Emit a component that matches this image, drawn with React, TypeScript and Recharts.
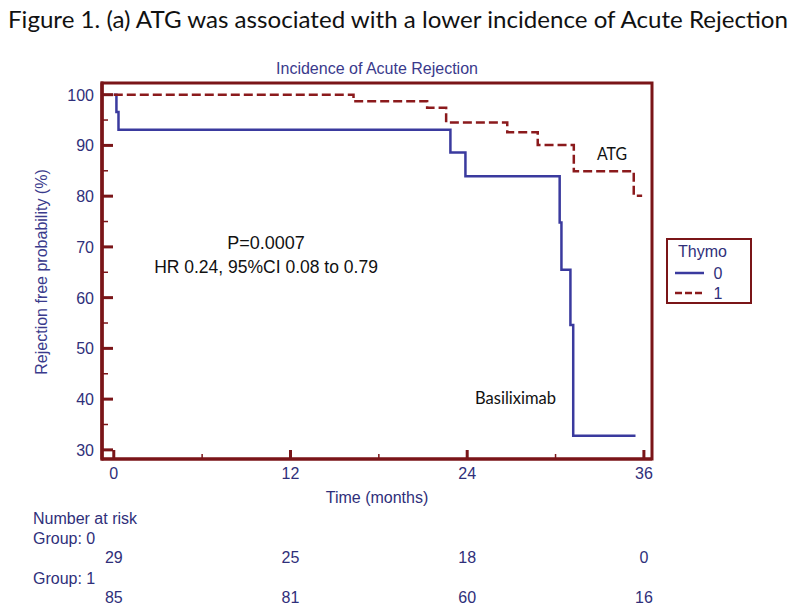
import React from 'react';
import { LineChart, Line, XAxis, YAxis, ReferenceArea, Legend } from 'recharts';

// ---- data ----
const group0Time = [0, 0.18, 0.32, 22.86, 23.88, 30.28, 30.4, 31.01, 31.2, 35.43];
const group0Surv = [100, 96.6, 93.1, 88.6, 83.9, 74.8, 65.5, 54.6, 32.8, 32.8];
const group1Time = [0, 16.28, 21.28, 22.57, 26.72, 28.79, 31.24, 35.31, 35.88];
const group1Surv = [100, 98.7, 97.4, 94.5, 92.6, 90.1, 84.9, 80.1, 80.1];

const majorTimeTicks = [0, 12, 24, 36];
const minorTimeTicks = [6, 18, 30];
const majorProbTicks = [30, 40, 50, 60, 70, 80, 90, 100];
const minorProbTicks = [35, 45, 55, 65, 75, 85, 95];

const riskTimes = [0, 12, 24, 36];
const riskGroup0 = [29, 25, 18, 0];
const riskGroup1 = [85, 81, 60, 16];

const seriesNames = ['0', '1'];
const legendTitle = 'Thymo';

// ---- styles ----
const FRAME = '#7a1518';
const NAVY = '#2f2f7a';
const BLUE = '#3a3a9e';
const RED = '#8b1a1c';
const AXIS_FONT = '"Liberation Sans", Arial, sans-serif';
const NOTE_FONT = 'Lato, "Open Sans", sans-serif';

const PLOT = { left: 102, top: 83, right: 652, bottom: 459 };

const xDomain: [number, number] = [-0.8, 36.55];
const yDomain: [number, number] = [28.2, 102.3];

const group0Data = group0Time.map((t, i) => ({ t, s: group0Surv[i] }));
const group1Data = group1Time.map((t, i) => ({ t, s: group1Surv[i] }));

const allTimeTicks = [...majorTimeTicks, ...minorTimeTicks].sort((a, b) => a - b);
const allProbTicks = [...majorProbTicks, ...minorProbTicks].sort((a, b) => a - b);

const XTick = (props: any) => {
  const { x, y, payload } = props;
  const v = payload.value;
  const major = majorTimeTicks.includes(v);
  const ri = riskTimes.indexOf(v);
  return (
    <g>
      <line x1={x} x2={x} y1={y} y2={y - (major ? 9 : 5)} stroke={FRAME} strokeWidth={major ? 3 : 1.5} />
      {major && (
        <text x={x} y={y + 20} textAnchor="middle" fill={NAVY} fontSize={16} fontFamily={AXIS_FONT}>
          {v}
        </text>
      )}
      {ri >= 0 && (
        <text x={x} y={y + 104} textAnchor="middle" fill={NAVY} fontSize={16} fontFamily={AXIS_FONT}>
          {riskGroup0[ri]}
        </text>
      )}
      {ri >= 0 && (
        <text x={x} y={y + 144} textAnchor="middle" fill={NAVY} fontSize={16} fontFamily={AXIS_FONT}>
          {riskGroup1[ri]}
        </text>
      )}
    </g>
  );
};

const YTick = (props: any) => {
  const { x, y, payload } = props;
  const v = payload.value;
  const major = majorProbTicks.includes(v);
  return (
    <g>
      <line x1={x} x2={x + (major ? 11 : 6)} y1={y} y2={y} stroke={FRAME} strokeWidth={major ? 3 : 1.5} />
      {major && (
        <text x={x - 8} y={y + 6} textAnchor="end" fill={NAVY} fontSize={16} fontFamily={AXIS_FONT}>
          {v}
        </text>
      )}
    </g>
  );
};

const renderLegend = () => (
  <div
    style={{
      width: 86,
      height: 66,
      border: `2px solid ${FRAME}`,
      boxSizing: 'border-box',
      background: '#fff',
    }}
  >
    <svg width={82} height={62} style={{ display: 'block' }}>
      <text x={10} y={17} fill={NAVY} fontSize={16} fontFamily={AXIS_FONT}>
        {legendTitle}
      </text>
      <line x1={7} x2={36} y1={33} y2={33} stroke={BLUE} strokeWidth={2.5} />
      <text x={50} y={38.5} textAnchor="middle" fill={NAVY} fontSize={16} fontFamily={AXIS_FONT}>
        {seriesNames[0]}
      </text>
      <line x1={7} x2={36} y1={53} y2={53} stroke={RED} strokeWidth={2.5} strokeDasharray="7 3" />
      <text x={50} y={58.5} textAnchor="middle" fill={NAVY} fontSize={16} fontFamily={AXIS_FONT}>
        {seriesNames[1]}
      </text>
    </svg>
  </div>
);

export default function App() {
  return (
    <div style={{ position: 'absolute', left: 0, top: 0, width: 800, height: 612, background: '#fff' }}>
      <LineChart
        width={800}
        height={612}
        margin={{ top: PLOT.top, right: 800 - PLOT.right, bottom: 3, left: PLOT.left - 60 }}
      >
        <ReferenceArea
          x1={xDomain[0]}
          x2={xDomain[1]}
          y1={yDomain[0]}
          y2={yDomain[1]}
          fill="none"
          stroke={FRAME}
          strokeWidth={3}
          ifOverflow="visible"
        />
        <XAxis
          type="number"
          dataKey="t"
          domain={xDomain}
          allowDataOverflow
          ticks={allTimeTicks}
          interval={0}
          tickSize={0}
          tickMargin={0}
          axisLine={{ stroke: FRAME, strokeWidth: 3 }}
          tickLine={false}
          height={612 - 3 - PLOT.bottom}
          tick={XTick}
        />
        <YAxis
          type="number"
          domain={yDomain}
          allowDataOverflow
          ticks={allProbTicks}
          interval={0}
          tickSize={0}
          tickMargin={0}
          axisLine={{ stroke: FRAME, strokeWidth: 3 }}
          tickLine={false}
          width={60}
          tick={YTick}
        />
        <Line
          data={group0Data}
          dataKey="s"
          name={seriesNames[0]}
          type="stepAfter"
          stroke={BLUE}
          strokeWidth={2.5}
          dot={false}
          activeDot={false}
          isAnimationActive={false}
        />
        <Line
          data={group1Data}
          dataKey="s"
          name={seriesNames[1]}
          type="stepAfter"
          stroke={RED}
          strokeWidth={2.5}
          strokeDasharray="9 4"
          dot={false}
          activeDot={false}
          isAnimationActive={false}
        />
        <Legend
          layout="vertical"
          align="center"
          verticalAlign="middle"
          content={renderLegend}
          wrapperStyle={{ position: 'absolute', left: 666, top: 238, width: 86, height: 66 }}
        />
      </LineChart>
      <svg
        width={800}
        height={612}
        style={{ position: 'absolute', left: 0, top: 0, pointerEvents: 'none' }}
      >
        <line
          x1={PLOT.left}
          x2={PLOT.left}
          y1={PLOT.top - 1.5}
          y2={PLOT.bottom + 1.5}
          stroke={FRAME}
          strokeWidth={3}
        />
        <text x={8} y={28} fontSize={23.5} fill="#111" fontFamily={NOTE_FONT} textLength={780} lengthAdjust="spacingAndGlyphs">
          Figure 1.  (a) ATG was associated with a lower incidence of Acute Rejection
        </text>
        <text x={377} y={74} textAnchor="middle" fontSize={16} fill="#3a3a8c" fontFamily={AXIS_FONT}>
          Incidence of Acute Rejection
        </text>
        <text
          x={0}
          y={0}
          transform="translate(47,272) rotate(-90)"
          textAnchor="middle"
          fontSize={16}
          fill="#3a3a8c"
          fontFamily={AXIS_FONT}
        >
          Rejection free probability (%)
        </text>
        <text x={377} y={503} textAnchor="middle" fontSize={16} fill={NAVY} fontFamily={AXIS_FONT}>
          Time (months)
        </text>
        <text x={33} y={524} fontSize={16} fill={NAVY} fontFamily={AXIS_FONT}>Number at risk</text>
        <text x={33} y={544} fontSize={16} fill={NAVY} fontFamily={AXIS_FONT}>Group: 0</text>
        <text x={33} y={584} fontSize={16} fill={NAVY} fontFamily={AXIS_FONT}>Group: 1</text>
        <text x={266} y={249} textAnchor="middle" fontSize={18} fill="#111" fontFamily={AXIS_FONT}>
          P=0.0007
        </text>
        <text x={266} y={273} textAnchor="middle" fontSize={17.5} fill="#111" fontFamily={AXIS_FONT}>
          HR 0.24, 95%CI 0.08 to 0.79
        </text>
        <text x={597} y={160} fontSize={18} fill="#111" fontFamily={NOTE_FONT} textLength={30} lengthAdjust="spacingAndGlyphs">
          ATG
        </text>
        <text x={475} y={404} fontSize={18} fill="#111" fontFamily={NOTE_FONT} textLength={81} lengthAdjust="spacingAndGlyphs">
          Basiliximab
        </text>
      </svg>
    </div>
  );
}
